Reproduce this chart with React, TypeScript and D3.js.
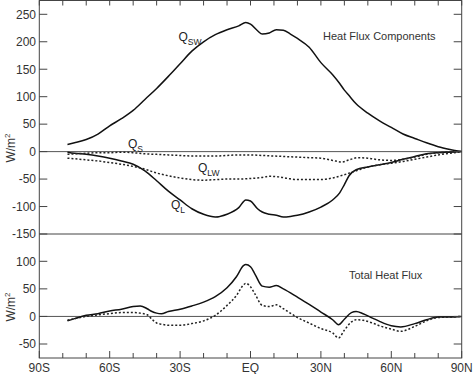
import React from 'react';
import * as d3 from 'd3';

// latitude grid shared by series (degrees, S negative)
const latComp = [-78, -75, -70, -65, -60, -55, -50, -45, -40, -35, -30, -25, -20, -15, -10, -5, -2, 0, 3, 5, 8, 11, 14, 17, 20, 25, 30, 35, 38, 40, 42, 45, 50, 55, 60, 65, 70, 75, 80, 85, 90];
const qSW = [13, 16, 22, 32, 47, 60, 75, 95, 115, 137, 160, 183, 200, 213, 222, 229, 235, 232, 220, 214, 216, 222, 221, 214, 206, 190, 162, 140, 124, 112, 102, 87, 70, 56, 44, 32, 24, 16, 9, 4, 0];
const qL = [-1, -3, -5, -8, -12, -17, -23, -35, -53, -72, -88, -104, -114, -119, -114, -102, -88, -90, -104, -110, -114, -116, -119, -118, -116, -110, -101, -88, -75, -60, -44, -33, -28, -24, -20, -14, -9, -4, -2, -1, 0];

const latLW = [-78, -75, -70, -65, -60, -55, -50, -45, -40, -35, -30, -25, -20, -15, -10, -5, 0, 5, 8, 12, 16, 20, 25, 30, 35, 40, 45, 50, 55, 60, 65, 70, 75, 80, 85, 90];
const qLW = [-12, -13, -15, -17, -20, -23, -27, -32, -39, -44, -48, -51, -52, -51, -50, -50, -49, -47, -45, -46, -49, -51, -51, -51, -48, -42, -35, -28, -24, -21, -18, -14, -10, -6, -3, 0];

const latS = [-78, -75, -70, -65, -60, -55, -50, -45, -40, -35, -30, -25, -20, -15, -10, -5, 0, 5, 10, 15, 20, 25, 30, 35, 39, 42, 46, 50, 55, 60, 65, 70, 75, 80, 85, 90];
const qS = [-5, -4, -3, -2, -2, -1, -2, -4, -5, -6, -7, -8, -8, -8, -7, -6, -6, -7, -8, -9, -10, -11, -12, -16, -19, -15, -11, -12, -15, -16, -14, -10, -5, -2, -1, 0];

const latTot = [-78, -75, -70, -65, -60, -55, -50, -47, -44, -42, -40, -38, -35, -30, -25, -20, -15, -10, -6, -3, -2, 0, 2, 5, 8, 11, 14, 20, 25, 30, 35, 37.5, 40, 43, 45, 48, 52, 55, 60, 64, 70, 75, 80, 85, 90];
const totSolid = [-8, -4, 2, 5, 10, 13, 18, 19, 14, 9, 6, 5, 9, 13, 19, 26, 36, 52, 72, 92, 94, 90, 76, 55, 53, 56, 50, 35, 22, 8, -6, -15, -5, 7, 9, 5, -3, -9, -17, -19, -13, -6, -1, -1, 0];
const totDotted = [-7, -4, 0, 3, 5, 7, 7, 6, 3, -5, -12, -14, -16, -16, -13, -8, 2, 20, 38, 57, 60, 54, 40, 20, 18, 21, 14, -2, -12, -22, -30, -39, -25, -10, -6, -7, -12, -17, -23, -27, -18, -8, -2, -1, 0];

const xTicks = [-90, -60, -30, 0, 30, 60, 90];
const xTickLabels = ['90S', '60S', '30S', 'EQ', '30N', '60N', '90N'];
const upperTicks = [250, 200, 150, 100, 50, 0, -50, -100, -150];
const lowerTicks = [100, 50, 0, -50];

const W = 473;
const H = 374;
const left = 39.3;
const right = 461.7;
const top = 0.5;
const split = 234;
const bottom = 358;
const font = 'Liberation Sans, Arial, Helvetica, sans-serif';
const axisColor = '#444';

const x = d3.scaleLinear().domain([-90, 90]).range([left, right]);
const yUp = d3.scaleLinear().domain([-150, 250]).range([split, 14.3]);
const yLo = d3.scaleLinear().domain([-50, 100]).range([344, 261.3]);

function path(lats: number[], vals: number[], y: d3.ScaleLinear<number, number>) {
  const line = d3.line<number>()
    .x((_, i) => x(lats[i]))
    .y((d) => y(d))
    .curve(d3.curveMonotoneX);
  return line(vals) || '';
}

function QLabel({ px, py, sub }: { px: number; py: number; sub: string }) {
  return (
    <text x={px} y={py} fontFamily={font} fontSize={12} fill="#222">
      Q<tspan fontSize={8.5} dy={4}>{sub}</tspan>
    </text>
  );
}

export default function App() {
  const minor = d3.range(-90, 91, 10);
  return (
    <div style={{ position: 'absolute', left: 0, top: 0 }}>
      <svg width={W} height={H} style={{ display: 'block' }}>
        <rect width={W} height={H} fill="white" />

        {/* zero lines */}
        <line x1={left} x2={right} y1={yUp(0)} y2={yUp(0)} stroke="#555" strokeWidth={1} />
        <line x1={left} x2={right} y1={yLo(0)} y2={yLo(0)} stroke="#555" strokeWidth={1} />

        {/* curves, upper panel */}
        <path d={path(latComp, qSW, yUp)} fill="none" stroke="#111" strokeWidth={1.5} />
        <path d={path(latComp, qL, yUp)} fill="none" stroke="#111" strokeWidth={1.5} />
        <path d={path(latLW, qLW, yUp)} fill="none" stroke="#222" strokeWidth={1.5} strokeDasharray="2,2" />
        <path d={path(latS, qS, yUp)} fill="none" stroke="#222" strokeWidth={1.5} strokeDasharray="2,2" />

        {/* curves, lower panel */}
        <path d={path(latTot, totSolid, yLo)} fill="none" stroke="#111" strokeWidth={1.5} />
        <path d={path(latTot, totDotted, yLo)} fill="none" stroke="#222" strokeWidth={1.5} strokeDasharray="2,2" />

        {/* frame and separator */}
        <rect x={left} y={top} width={right - left} height={bottom - top} fill="none" stroke={axisColor} strokeWidth={1} />
        <line x1={left} x2={right} y1={split} y2={split} stroke={axisColor} strokeWidth={1} />

        {/* x ticks */}
        {minor.map((d) => (
          <g key={d}>
            <line x1={x(d)} x2={x(d)} y1={top} y2={top + 5} stroke={axisColor} />
            <line x1={x(d)} x2={x(d)} y1={bottom} y2={bottom - (d % 30 === 0 ? 7 : 5)} stroke={axisColor} />
          </g>
        ))}
        {xTicks.map((d, i) => (
          <text key={d} x={x(d)} y={372} textAnchor="middle" fontFamily={font} fontSize={12} fill="#333">
            {xTickLabels[i]}
          </text>
        ))}

        {/* y ticks upper */}
        {upperTicks.map((d) => (
          <g key={'u' + d}>
            <line x1={left} x2={left + 8} y1={yUp(d)} y2={yUp(d)} stroke={axisColor} />
            <line x1={right} x2={right - 8} y1={yUp(d)} y2={yUp(d)} stroke={axisColor} />
            <text x={36} y={yUp(d) + 4.3} textAnchor="end" fontFamily={font} fontSize={12} fill="#333">{d}</text>
          </g>
        ))}
        {lowerTicks.map((d) => (
          <g key={'l' + d}>
            <line x1={left} x2={left + 8} y1={yLo(d)} y2={yLo(d)} stroke={axisColor} />
            <line x1={right} x2={right - 8} y1={yLo(d)} y2={yLo(d)} stroke={axisColor} />
            <text x={36} y={yLo(d) + 4.3} textAnchor="end" fontFamily={font} fontSize={12} fill="#333">{d}</text>
          </g>
        ))}

        {/* y axis titles */}
        <text transform={`translate(15,148) rotate(-90)`} textAnchor="middle" fontFamily={font} fontSize={12} fill="#333">
          W/m<tspan fontSize={8} dy={-5}>2</tspan>
        </text>
        <text transform={`translate(15,307) rotate(-90)`} textAnchor="middle" fontFamily={font} fontSize={12} fill="#333">
          W/m<tspan fontSize={8} dy={-5}>2</tspan>
        </text>

        {/* panel titles */}
        <text x={323} y={40} fontFamily={font} fontSize={11} fill="#333">Heat Flux Components</text>
        <text x={349} y={279} fontFamily={font} fontSize={11} fill="#333">Total Heat Flux</text>

        {/* curve labels */}
        <QLabel px={178.5} py={41} sub="SW" />
        <QLabel px={128} py={148} sub="S" />
        <QLabel px={198} py={172} sub="LW" />
        <QLabel px={171} py={209} sub="L" />
      </svg>
    </div>
  );
}
